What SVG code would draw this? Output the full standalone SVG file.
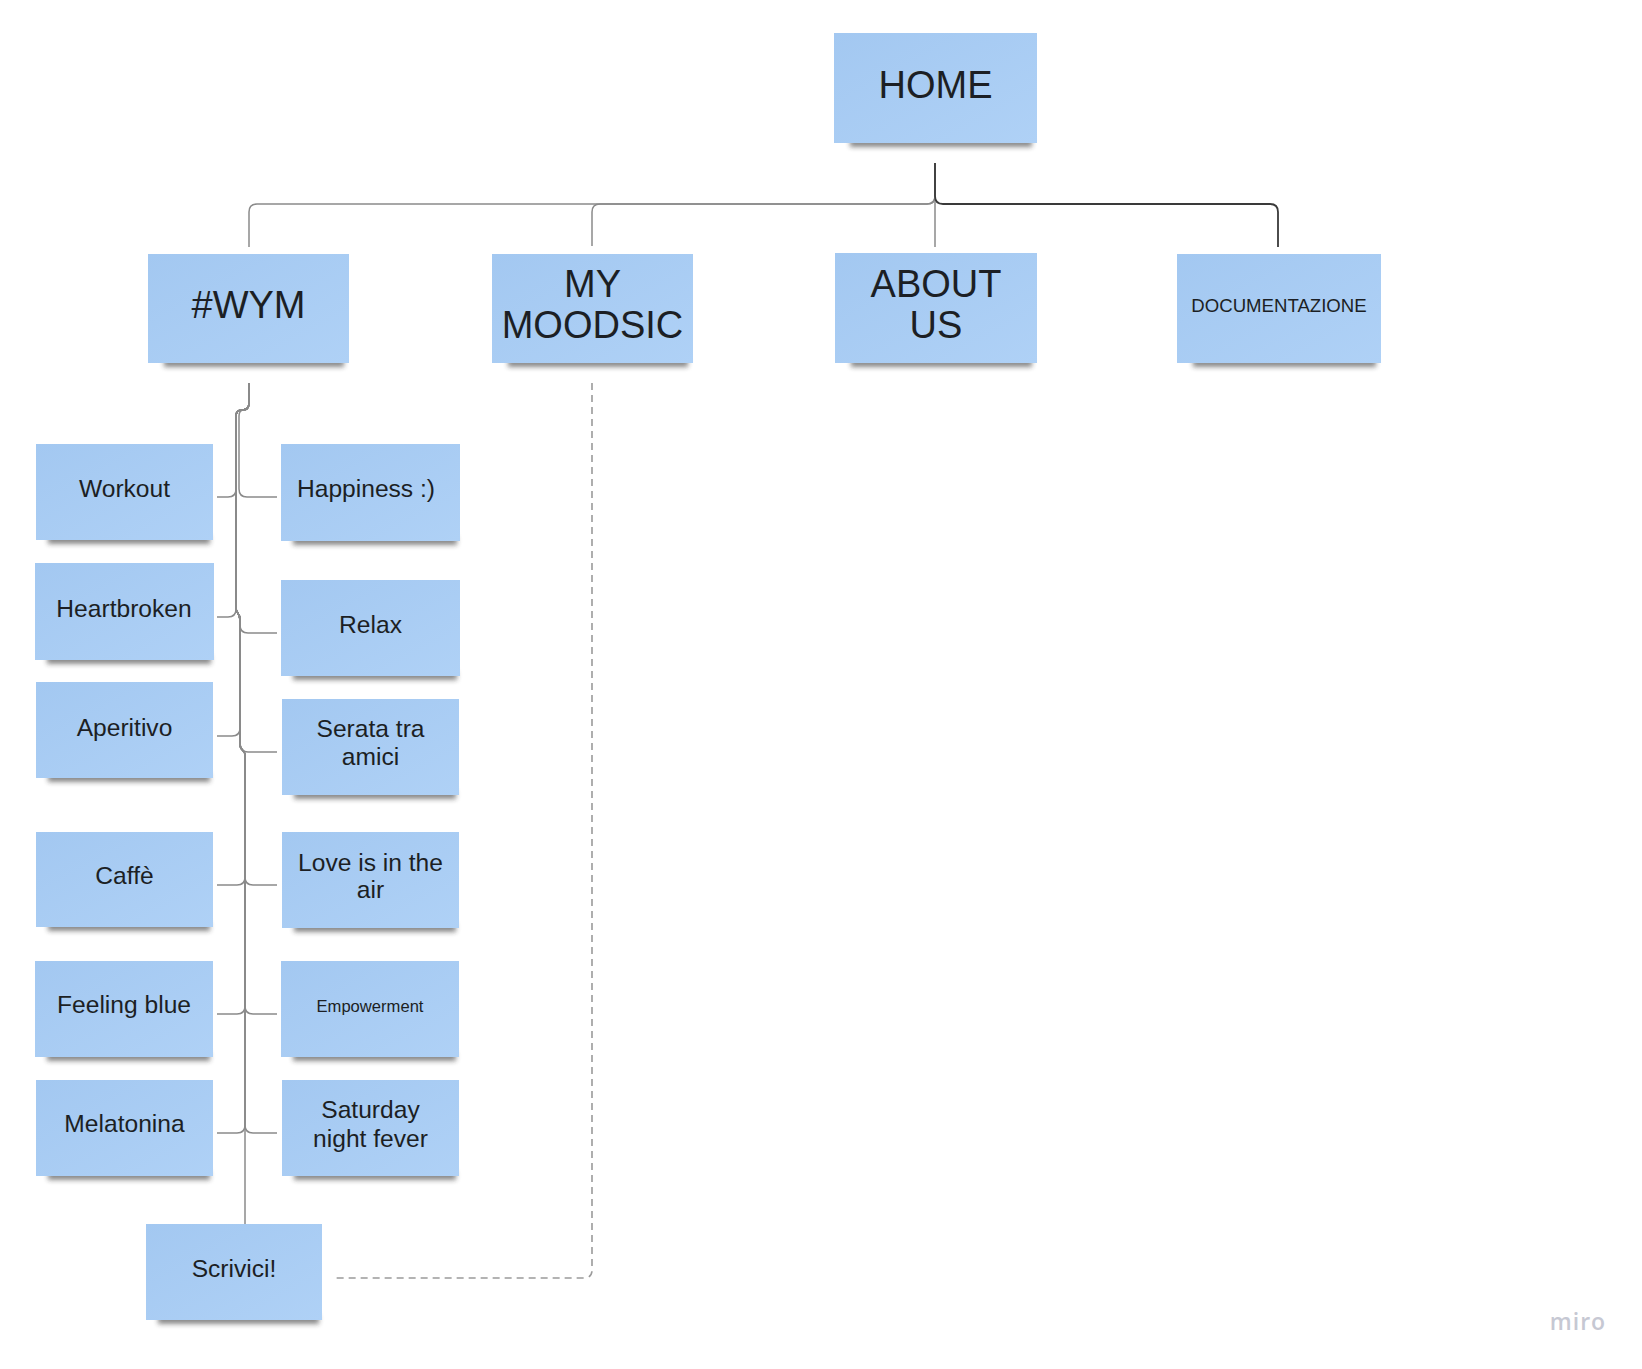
<svg xmlns="http://www.w3.org/2000/svg" width="1642" height="1369" viewBox="0 0 1642 1369">
<style>
.note{fill:url(#ng)}
.sh{fill:#2a2a2a;opacity:.55;filter:url(#blur)}
.t{font-family:"Liberation Sans",Arial,sans-serif;fill:#1c1f24;text-anchor:middle}
.big{font-size:38px}
.sm{font-size:24.6px}
.cn{fill:none;stroke:#8a8a8a;stroke-width:1.5}
.dk{fill:none;stroke:#3a3a3a;stroke-width:1.8}
.ds{fill:none;stroke:#9a9a9a;stroke-width:1.6;stroke-dasharray:7 5}
</style>
<defs>
<linearGradient id="ng" x1="0" y1="0" x2="1" y2="1">
<stop offset="0" stop-color="#a3c8f1"/>
<stop offset="1" stop-color="#afd1f6"/>
</linearGradient>
<filter id="blur" x="-20%" y="-100%" width="140%" height="300%">
<feGaussianBlur stdDeviation="2.6"/>
</filter>
</defs>
<rect width="1642" height="1369" fill="#ffffff"/>

<g id="connectors">
<path class="cn" d="M935,163 V196 Q935,204 927,204 H257 Q249,204 249,212 V247"/>
<path class="cn" d="M935,163 V196 Q935,204 927,204 H600 Q592,204 592,212 V246"/>
<path class="cn" d="M935,163 V247"/>
<path class="dk" d="M935,163 V196 Q935,204 943,204 H1270 Q1278,204 1278,212 V247"/>
<path class="cn" d="M249,383 V403 Q249,410 242,410 Q236,410 236,416 V489 Q236,497 228,497 H217"/>
<path class="cn" d="M249,383 V403 Q249,410 244,410 Q239,410 239,416 V489 Q239,497 247,497 H277"/>
<path class="cn" d="M249,383 V403 Q249,410 242,410 Q236,410 236,416 V609 Q236,617 228,617 H217"/>
<path class="cn" d="M249,383 V403 Q249,410 242,410 Q236,410 236,416 V608 C236,614 240,612 240,620 V625 Q240,633 248,633 H277"/>
<path class="cn" d="M249,383 V403 Q249,410 242,410 Q236,410 236,416 V608 C236,614 240,612 240,620 V728 Q240,736 232,736 H217"/>
<path class="cn" d="M249,383 V403 Q249,410 242,410 Q236,410 236,416 V608 C236,614 240,612 240,620 V744 Q240,752 248,752 H277"/>
<path class="cn" d="M249,383 V403 Q249,410 242,410 Q236,410 236,416 V608 C236,614 240,612 240,620 V744 C240,752 245,748 245,756 V877 Q245,885 237,885 H217"/>
<path class="cn" d="M249,383 V403 Q249,410 242,410 Q236,410 236,416 V608 C236,614 240,612 240,620 V744 C240,752 245,748 245,756 V877 Q245,885 253,885 H277"/>
<path class="cn" d="M249,383 V403 Q249,410 242,410 Q236,410 236,416 V608 C236,614 240,612 240,620 V744 C240,752 245,748 245,756 V1006 Q245,1014 237,1014 H217"/>
<path class="cn" d="M249,383 V403 Q249,410 242,410 Q236,410 236,416 V608 C236,614 240,612 240,620 V744 C240,752 245,748 245,756 V1006 Q245,1014 253,1014 H277"/>
<path class="cn" d="M249,383 V403 Q249,410 242,410 Q236,410 236,416 V608 C236,614 240,612 240,620 V744 C240,752 245,748 245,756 V1125 Q245,1133 237,1133 H217"/>
<path class="cn" d="M249,383 V403 Q249,410 242,410 Q236,410 236,416 V608 C236,614 240,612 240,620 V744 C240,752 245,748 245,756 V1125 Q245,1133 253,1133 H277"/>
<path class="cn" d="M249,383 V403 Q249,410 242,410 Q236,410 236,416 V608 C236,614 240,612 240,620 V744 C240,752 245,748 245,756 V1232"/>
<path class="ds" d="M592,383 V1270 Q592,1278 584,1278 H333"/>
</g>

<g id="home">
<rect class="sh" x="850" y="137" width="182" height="10"/>
<rect class="note" x="834" y="33" width="203" height="110"/>
<text class="t big" x="935.5" y="98">HOME</text>
</g>
<g id="wym">
<rect class="sh" x="164" y="357" width="180" height="10"/>
<rect class="note" x="148" y="254" width="201" height="109"/>
<text class="t big" x="248.5" y="318">#WYM</text>
</g>
<g id="mymoodsic">
<rect class="sh" x="508" y="357" width="180" height="10"/>
<rect class="note" x="492" y="254" width="201" height="109"/>
<text class="t big" x="592.5" y="297">MY</text>
<text class="t big" x="592.5" y="338">MOODSIC</text>
</g>
<g id="aboutus">
<rect class="sh" x="851" y="357" width="181" height="10"/>
<rect class="note" x="835" y="253" width="202" height="110"/>
<text class="t big" x="936" y="297">ABOUT</text>
<text class="t big" x="936" y="338">US</text>
</g>
<g id="documentazione">
<rect class="sh" x="1193" y="357" width="183" height="10"/>
<rect class="note" x="1177" y="254" width="204" height="109"/>
<text class="t" style="font-size:18.6px" x="1279" y="312">DOCUMENTAZIONE</text>
</g>

<g id="workout">
<rect class="sh" x="48" y="535" width="162" height="9"/>
<rect class="note" x="36" y="444" width="177" height="96"/>
<text class="t sm" x="124.5" y="497">Workout</text>
</g>
<g id="happiness">
<rect class="sh" x="293" y="536" width="164" height="9"/>
<rect class="note" x="281" y="444" width="179" height="97"/>
<text class="t sm" x="366" y="497">Happiness :)</text>
</g>
<g id="heartbroken">
<rect class="sh" x="47" y="655" width="164" height="9"/>
<rect class="note" x="35" y="563" width="179" height="97"/>
<text class="t sm" x="124" y="617">Heartbroken</text>
</g>
<g id="relax">
<rect class="sh" x="293" y="671" width="164" height="9"/>
<rect class="note" x="281" y="580" width="179" height="96"/>
<text class="t sm" x="370.5" y="633">Relax</text>
</g>
<g id="aperitivo">
<rect class="sh" x="48" y="773" width="162" height="9"/>
<rect class="note" x="36" y="682" width="177" height="96"/>
<text class="t sm" x="124.5" y="736">Aperitivo</text>
</g>
<g id="serata">
<rect class="sh" x="294" y="790" width="162" height="9"/>
<rect class="note" x="282" y="699" width="177" height="96"/>
<text class="t sm" x="370.5" y="737">Serata tra</text>
<text class="t sm" x="370.5" y="765">amici</text>
</g>
<g id="caffe">
<rect class="sh" x="48" y="922" width="162" height="9"/>
<rect class="note" x="36" y="832" width="177" height="95"/>
<text class="t sm" x="124.5" y="884">Caffè</text>
</g>
<g id="love">
<rect class="sh" x="294" y="923" width="162" height="9"/>
<rect class="note" x="282" y="832" width="177" height="96"/>
<text class="t sm" x="370.5" y="871">Love is in the</text>
<text class="t sm" x="370.5" y="898">air</text>
</g>
<g id="feelingblue">
<rect class="sh" x="47" y="1052" width="163" height="9"/>
<rect class="note" x="35" y="961" width="178" height="96"/>
<text class="t sm" x="124" y="1013">Feeling blue</text>
</g>
<g id="empowerment">
<rect class="sh" x="293" y="1052" width="163" height="9"/>
<rect class="note" x="281" y="961" width="178" height="96"/>
<text class="t" style="font-size:16.6px" x="370" y="1012">Empowerment</text>
</g>
<g id="melatonina">
<rect class="sh" x="48" y="1171" width="162" height="9"/>
<rect class="note" x="36" y="1080" width="177" height="96"/>
<text class="t sm" x="124.5" y="1132">Melatonina</text>
</g>
<g id="saturday">
<rect class="sh" x="294" y="1171" width="162" height="9"/>
<rect class="note" x="282" y="1080" width="177" height="96"/>
<text class="t sm" x="370.5" y="1118">Saturday</text>
<text class="t sm" x="370.5" y="1147">night fever</text>
</g>
<g id="scrivici">
<rect class="sh" x="158" y="1315" width="161" height="9"/>
<rect class="note" x="146" y="1224" width="176" height="96"/>
<text class="t sm" x="234" y="1277">Scrivici!</text>
</g>

<text x="1578" y="1330" style="font-family:'Open Sans',sans-serif;font-weight:600;font-size:23px;fill:#c6c8d3;text-anchor:middle;letter-spacing:1px">miro</text>
</svg>
